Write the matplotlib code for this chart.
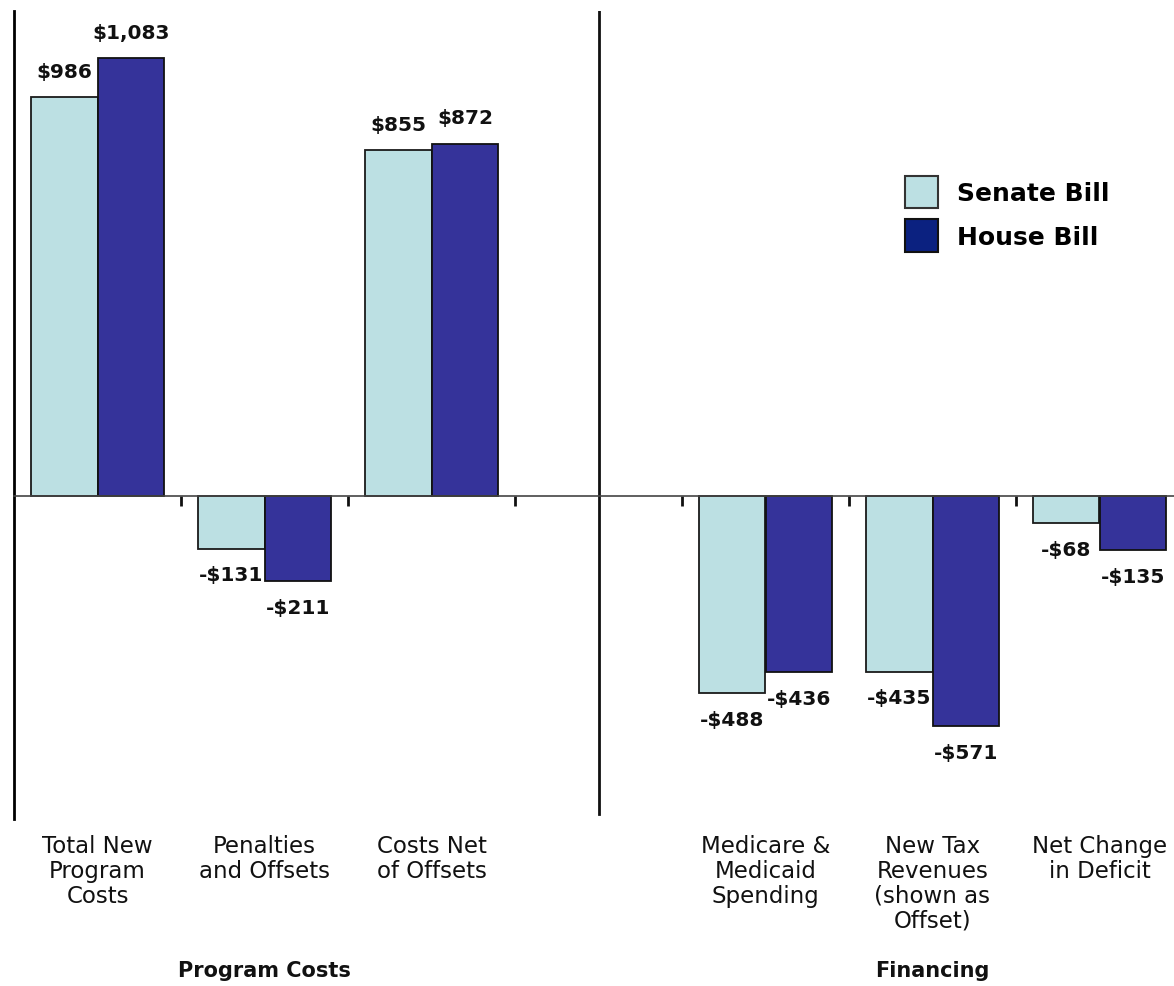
import numpy as np
import matplotlib
matplotlib.use("Agg")
import matplotlib.pyplot as plt
import matplotlib.transforms as mtransforms
from matplotlib.patches import Patch

# spending figures, billions of dollars
categories = ["Total New\nProgram\nCosts", "Penalties\nand Offsets", "Costs Net\nof Offsets",
              "Medicare &\nMedicaid\nSpending", "New Tax\nRevenues\n(shown as\nOffset)",
              "Net Change\nin Deficit"]
senate = [986, -131, 855, -488, -435, -68]
house = [1083, -211, 872, -436, -571, -135]
sections = ["Program Costs", "Financing"]

SENATE_COLOR = "#BCE0E3"
HOUSE_COLOR = "#35339A"
HOUSE_LEGEND = "#0B2180"

plt.rcParams['font.family'] = ['DejaVu Sans']

fig = plt.figure(figsize=(11.74, 9.87), dpi=100)
ax = fig.add_axes([14 / 1174, 1 - 820 / 987, 1169 / 1174, 808 / 987])

# slot 3 is left empty, the divider sits there
x = np.array([0, 1, 2, 4, 5, 6])
w = 0.4
ax.bar(x - w / 2, senate, w, color=SENATE_COLOR, edgecolor="#1a1a1a", linewidth=1.3, zorder=2)
ax.bar(x + w / 2, house, w, color=HOUSE_COLOR, edgecolor="#111111", linewidth=1.3, zorder=2)

def fmt(v):
    return ("-$" if v < 0 else "$") + f"{abs(v):,}"

for xs, vals in ((x - w / 2, senate), (x + w / 2, house)):
    for xi, v in zip(xs, vals):
        ax.annotate(fmt(v), (xi, v), xytext=(0, 12 if v > 0 else -12),
                    textcoords="offset points", ha="center",
                    va="bottom" if v > 0 else "top",
                    fontsize=14.5, fontweight="bold", color="#111111")

ax.set_xlim(-0.5, 6.5)
ax.set_ylim(-800, 1200)

# zero line acts as the category axis
for s in ("top", "right"):
    ax.spines[s].set_visible(False)
ax.spines["bottom"].set_position(("data", 0))
ax.spines["bottom"].set_color("#444444")
ax.spines["bottom"].set_linewidth(1.2)
ax.spines["left"].set_linewidth(2)
ax.set_yticks([])
ax.set_xticks([0.5, 1.5, 2.5, 3.5, 4.5, 5.5])
ax.set_xticklabels([])
ax.tick_params(axis="x", direction="out", length=7, width=2, color="#111111")
ax.axvline(3, ymin=0.006, color="#111111", linewidth=2)

trans = mtransforms.blended_transform_factory(ax.transData, fig.transFigure)
for xi, lab in zip(x, categories):
    ax.text(xi, 1 - 835 / 987, lab, transform=trans, ha="center", va="top",
            fontsize=16.5, linespacing=1.1, color="#111111")
for xi, lab in zip([1, 5], sections):
    ax.text(xi, 1 - 971 / 987, lab, transform=trans, ha="center", va="center",
            fontsize=15, fontweight="bold", color="#111111")

handles = [Patch(facecolor=SENATE_COLOR, edgecolor="#333333", linewidth=1.5),
           Patch(facecolor=HOUSE_LEGEND, edgecolor="#111111", linewidth=1.5)]
leg = ax.legend(handles, ["Senate Bill", "House Bill"], loc="upper left",
                bbox_to_anchor=(905 / 1174, 1 - 177 / 987), bbox_transform=fig.transFigure,
                frameon=False, borderpad=0, borderaxespad=0, handlelength=1.32,
                handleheight=1.6, handletextpad=0.75, labelspacing=0.45,
                prop={"size": 18, "weight": "bold"})

fig.savefig("out.png", dpi=100, facecolor="white")
